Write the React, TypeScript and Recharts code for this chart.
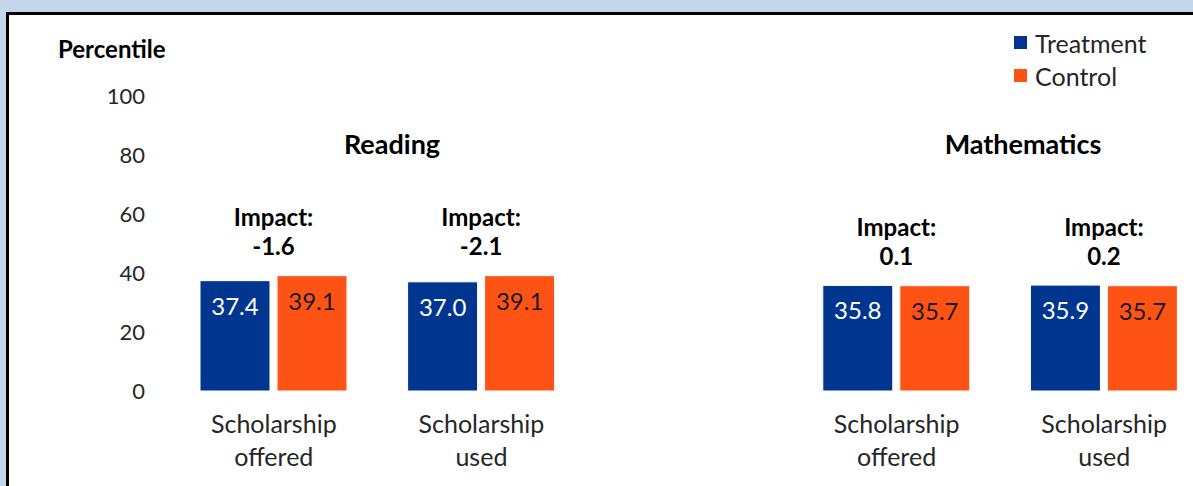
import * as React from 'react';
import { BarChart, Bar, XAxis, YAxis, LabelList } from 'recharts';

// one empty slot keeps Reading and Mathematics apart
const categories = ['Scholarship offered', 'Scholarship used', '', 'Scholarship offered', 'Scholarship used'];
const treatment = [37.4, 37.0, null, 35.8, 35.9];
const control = [39.1, 39.1, null, 35.7, 35.7];
const impact = ['-1.6', '-2.1', null, '0.1', '0.2'];
const yTicks = [0, 20, 40, 60, 80, 100];
const legendItems = ['Treatment', 'Control'];

const data = categories.map((c, i) => ({
	name: c,
	treatment: treatment[i],
	control: control[i],
	impact: impact[i]
}));

const FONT = 'Lato, "Open Sans", sans-serif';
const BLUE = '#00368f';
const ORANGE = '#ff5316';
const BAR_GAP = 7;

const CategoryTick = (props: any) => {
	const { x, y, payload } = props;
	if (!payload.value) return null;
	const words = String(payload.value).split(' ');
	return (
		<g transform={`translate(${x},${y})`}>
			{words.map((w, i) => (
				<text
					key={i}
					x={0}
					y={34 + i * 33}
					textAnchor="middle"
					fontFamily={FONT}
					fontSize={25}
					fill="#262626"
				>
					{w}
				</text>
			))}
		</g>
	);
};

const ImpactLabel = (props: any) => {
	const { x, y, value } = props;
	if (value == null || value === '') return null;
	const cx = x - BAR_GAP / 2;
	return (
		<g>
			<text x={cx} y={y - 50} textAnchor="middle" fontFamily={FONT} fontWeight="bold" fontSize={24} fill="#000">
				Impact:
			</text>
			<text x={cx} y={y - 21} textAnchor="middle" fontFamily={FONT} fontWeight="bold" fontSize={24} fill="#000">
				{value}
			</text>
		</g>
	);
};

const fmt = (v: any) => (v == null ? '' : Number(v).toFixed(1));

const titleStyle: React.CSSProperties = {
	position: 'absolute',
	width: 240,
	textAlign: 'center',
	top: 127,
	fontFamily: FONT,
	fontWeight: 'bold',
	fontSize: 27,
	color: '#000'
};

export default function App() {
	return (
		<div
			style={{
				position: 'absolute',
				top: 0,
				left: 0,
				width: 1193,
				height: 486,
				overflow: 'hidden',
				background: '#c5d5ea'
			}}
		>
			<div
				style={{
					position: 'absolute',
					left: 6,
					top: 12,
					width: 1300,
					height: 600,
					background: '#fff',
					borderLeft: '3px solid #000',
					borderTop: '3px solid #000'
				}}
			/>
			<div style={{ position: 'absolute', top: 0, left: 0 }}>
				<BarChart
					width={1208}
					height={486}
					data={data}
					margin={{ top: 96, right: 0, left: 0, bottom: 0 }}
					barSize={70}
					barGap={BAR_GAP}
				>
					<XAxis
						dataKey="name"
						axisLine={false}
						tickLine={false}
						height={95}
						interval={0}
						tick={<CategoryTick />}
					/>
					<YAxis
						width={170}
						domain={[0, 100]}
						ticks={yTicks}
						axisLine={false}
						tickLine={false}
						tickSize={0}
						tickMargin={25}
						tick={{ fontFamily: FONT, fontSize: 22, fill: '#262626' }}
					/>
					<Bar dataKey="treatment" name="Treatment" fill={BLUE} stroke="#fff" strokeWidth={1} isAnimationActive={false}>
						<LabelList
							dataKey="treatment"
							position="insideTop"
							offset={17}
							formatter={fmt}
							style={{ fontFamily: FONT, fontSize: 24, fill: '#fff' }}
						/>
					</Bar>
					<Bar dataKey="control" name="Control" fill={ORANGE} stroke="#fff" strokeWidth={1} isAnimationActive={false}>
						<LabelList
							dataKey="control"
							position="insideTop"
							offset={17}
							formatter={fmt}
							style={{ fontFamily: FONT, fontSize: 24, fill: '#1a1a1a' }}
						/>
						<LabelList dataKey="impact" content={<ImpactLabel />} />
					</Bar>
				</BarChart>
			</div>
			<div
				style={{
					position: 'absolute',
					left: 1014,
					top: 26,
					fontFamily: FONT,
					fontSize: 25,
					color: '#262626'
				}}
			>
				{legendItems.map((label, i) => (
					<div key={label} style={{ display: 'flex', alignItems: 'center', height: 33 }}>
						<span
							style={{
								display: 'inline-block',
								width: 13,
								height: 13,
								background: i === 0 ? BLUE : ORANGE,
								marginRight: 8
							}}
						/>
						{label}
					</div>
				))}
			</div>
			<div
				style={{
					position: 'absolute',
					left: 58,
					top: 34,
					fontFamily: FONT,
					fontWeight: 'bold',
					fontSize: 24,
					color: '#000'
				}}
			>
				Percentile
			</div>
			<div style={{ ...titleStyle, left: 272 }}>Reading</div>
			<div style={{ ...titleStyle, left: 903 }}>Mathematics</div>
		</div>
	);
}
